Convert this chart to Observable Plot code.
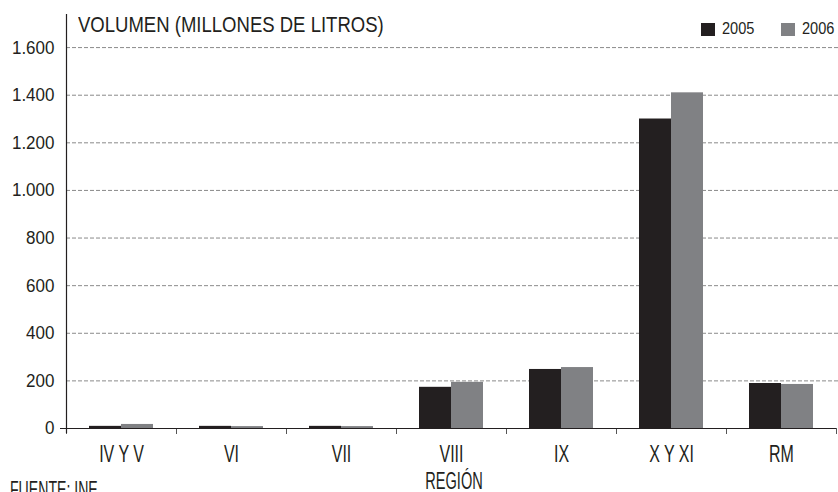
<!DOCTYPE html>
<html>
<head>
<meta charset="utf-8">
<script src="https://cdn.jsdelivr.net/npm/d3@7"></script>
<script src="https://cdn.jsdelivr.net/npm/@observablehq/plot@0.6"></script>
<style>
  body { margin: 0; background: #fff; }
  #wrap { position: relative; width: 838px; height: 492px; overflow: hidden; background: #fff;
          font-family: "Liberation Sans", Arial, sans-serif; color: #231f20; }
  #wrap svg { position: absolute; left: 0; top: 0; }
  .title { position: absolute; left: 78px; top: 14px; font-size: 22px; line-height: 1; white-space: nowrap;
           transform: scaleX(0.842); transform-origin: 0 0; }
  .lg-sw { position: absolute; top: 23px; width: 14px; height: 13px; }
  .lg-tx { position: absolute; top: 21px; font-size: 16px; line-height: 1; white-space: nowrap;
           transform: scaleX(0.91); transform-origin: 0 0; }
  .xlabel { position: absolute; left: 454px; top: 472px; font-size: 23.5px; line-height: 0.85; white-space: nowrap;
            transform: translateX(-50%) scaleX(0.62); }
  .source { position: absolute; left: 10px; top: 479px; font-size: 23.5px; line-height: 1; white-space: nowrap;
            transform: scaleX(0.6); transform-origin: 0 0; }
</style>
</head>
<body>
<div id="wrap"></div>
<script>
// ---- data ----
const regions = ["IV Y V", "VI", "VII", "VIII", "IX", "X Y XI", "RM"];
const years = ["2005", "2006"];
const values2005 = [9, 9, 9, 173, 248, 1300, 189];
const values2006 = [17, 8, 8, 194, 256, 1410, 185];
const yTicks = [0, 200, 400, 600, 800, 1000, 1200, 1400, 1600];
const colors = ["#231f20", "#808184"];
const titleText = "VOLUMEN (MILLONES DE LITROS)";
const xLabelText = "REGIÓN";
const sourceText = "FUENTE: INE";

// group layout: each region occupies [i, i+1] on a linear x scale
const barFrac = 32 / 110;
const rows = [];
regions.forEach((r, i) => {
  rows.push({region: r, year: years[0], value: values2005[i], x1: i + 0.5 - barFrac, x2: i + 0.5});
  rows.push({region: r, year: years[1], value: values2006[i], x1: i + 0.5, x2: i + 0.5 + barFrac});
});

const esFmt = d3.formatLocale({decimal: ",", thousands: ".", grouping: [3], currency: ["", ""]}).format(",");
const ink = "#231f20";

const chart = Plot.plot({
  width: 838,
  height: 492,
  marginLeft: 66,
  marginRight: 2,
  marginTop: 14,
  marginBottom: 64,
  style: {fontFamily: '"Liberation Sans", Arial, sans-serif', color: ink, background: "transparent"},
  x: {type: "linear", domain: [0, regions.length], axis: null},
  y: {domain: [0, 1739], axis: null},
  color: {domain: years, range: colors},
  marks: [
    Plot.ruleY(yTicks.filter(d => d > 0), {stroke: "#8a8a8a", strokeDasharray: "4,2", strokeWidth: 1, insetRight: -2}),
    Plot.rectY(rows, {x1: "x1", x2: "x2", y: "value", fill: "year"}),
    Plot.axisY({ticks: yTicks, tickSize: 0, tickPadding: 12, tickFormat: esFmt, fontSize: 18.5, fill: ink, label: null}),
    Plot.axisX({ticks: d3.range(regions.length + 1), tickSize: 6, tickFormat: () => "", stroke: "#555", label: null}),
    Plot.axisX({ticks: regions.map((_, i) => i + 0.5), tickSize: 0, tickPadding: 17, tickFormat: t => regions[Math.floor(t)], fontSize: 23.5, fill: ink, label: null}),
    Plot.ruleY([0], {stroke: ink, strokeWidth: 1.2, insetLeft: -6}),
    Plot.ruleX([0], {stroke: ink, strokeWidth: 1.2, insetBottom: -5})
  ]
});

// narrow the axis texts horizontally (condensed type), scaling about each label's anchor
function squeeze(sel, s) {
  chart.querySelectorAll(sel).forEach(t => {
    let tr = t.getAttribute("transform") || "";
    const xa = t.getAttribute("x");
    if (xa != null && /^-?[\d.]+$/.test(xa) && +xa !== 0) {
      t.removeAttribute("x");
      tr = `${tr} translate(${+xa},0)`;
    }
    t.setAttribute("transform", `${tr} scale(${s},1)`);
  });
}
squeeze('g[aria-label="y-axis tick label"] text', 0.92);
squeeze('g[aria-label="x-axis tick label"] text', 0.68);

const wrap = document.getElementById("wrap");
wrap.appendChild(chart);

const t = document.createElement("div");
t.className = "title"; t.textContent = titleText; wrap.appendChild(t);

years.forEach((y, i) => {
  const sw = document.createElement("div");
  sw.className = "lg-sw"; sw.style.left = (701 + 80 * i) + "px"; sw.style.background = colors[i];
  const tx = document.createElement("div");
  tx.className = "lg-tx"; tx.style.left = (722 + 80 * i) + "px"; tx.textContent = y;
  wrap.appendChild(sw); wrap.appendChild(tx);
});

const xl = document.createElement("div");
xl.className = "xlabel"; xl.textContent = xLabelText; wrap.appendChild(xl);

const src = document.createElement("div");
src.className = "source"; src.textContent = sourceText; wrap.appendChild(src);
</script>
</body>
</html>
